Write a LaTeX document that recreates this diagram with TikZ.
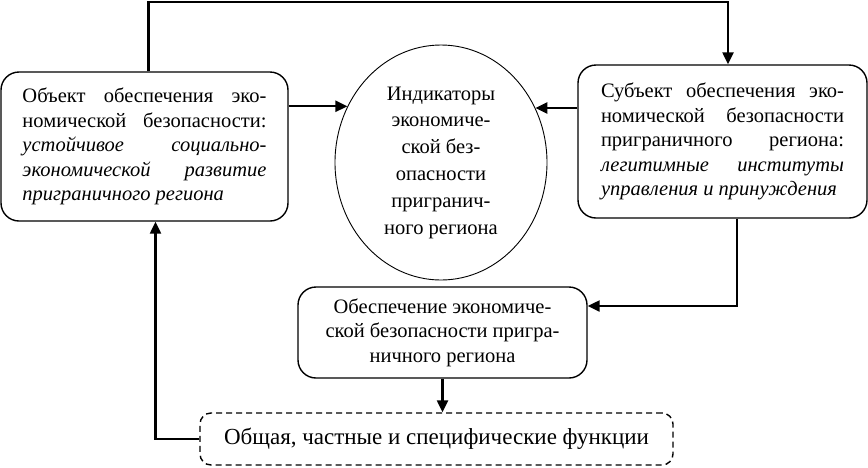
\documentclass[tikz,border=0pt]{standalone}
\usepackage{fontspec}
\setmainfont{Liberation Serif}
\usetikzlibrary{arrows.meta,shapes.geometric}

\begin{document}
\begin{tikzpicture}[x=1pt,y=-1pt,
        box/.style={draw,line width=1.4pt,rounded corners=18pt,inner sep=0pt,
            font=\fontsize{20.5}{24.5}\selectfont},
        arr/.style={line width=2.3pt,-{Triangle[length=12pt,width=11pt]}}]
                \useasboundingbox (0,0) rectangle (868,467);

                \node[box,minimum width=287pt,minimum height=149pt,
                    text width=244pt,align=justify] (obj) at (144.5,146.5)
                    {Объект обеспечения эко-\linebreak
                    номической безопасности:\linebreak
                    \textit{устойчивое социально-\linebreak
                    экономической развитие\linebreak
                    приграничного региона}};
                \node[box,minimum width=289pt,minimum height=153pt,
                    text width=243pt,align=justify] (subj) at (722.5,141.5)
                    {Субъект обеспечения эко-\linebreak
                    номической безопасности\linebreak
                    приграничного региона:\linebreak
                    \textit{легитимные институты\linebreak
                    управления и принуждения}};
                \node[draw,ellipse,line width=0.9pt,minimum width=212pt,
                    minimum height=235pt,inner sep=0pt,align=center,
                    font=\fontsize{20.5}{26.8}\selectfont] (ind) at (441,162.5)
                    {Индикаторы\\экономиче-\\ской без-\\опасности\\пригранич-\\ного региона};
                \node[box,minimum width=289pt,minimum height=91pt,align=center]
                    (mid) at (442.5,332.5)
                    {Обеспечение экономиче-\\ской безопасности пригра-\\ничного региона};
                \node[box,dash pattern=on 6pt off 4pt,rounded corners=11pt,
                    minimum width=473pt,minimum height=52pt,
                    font=\fontsize{23}{27}\selectfont] (fun) at (436.5,439)
                    {Общая, частные и специфические функции};

                \draw[arr] (obj.east |- ind.149) -- (ind.149);
                \draw[arr] (subj.west |- ind.30) -- (ind.30);
                \draw[arr] ([xshift=4pt]obj.north) -- ++(0,-69) -| ([xshift=5.5pt]subj.north);
                \draw[arr] ([xshift=14.5pt]subj.south) |- ([yshift=26.5pt]mid.east);
                \draw[arr] (mid.south) -- (mid.south |- fun.north);
                \draw[arr] (fun.west) -| ([xshift=11pt]obj.south);
            \end{tikzpicture}
\end{document}
